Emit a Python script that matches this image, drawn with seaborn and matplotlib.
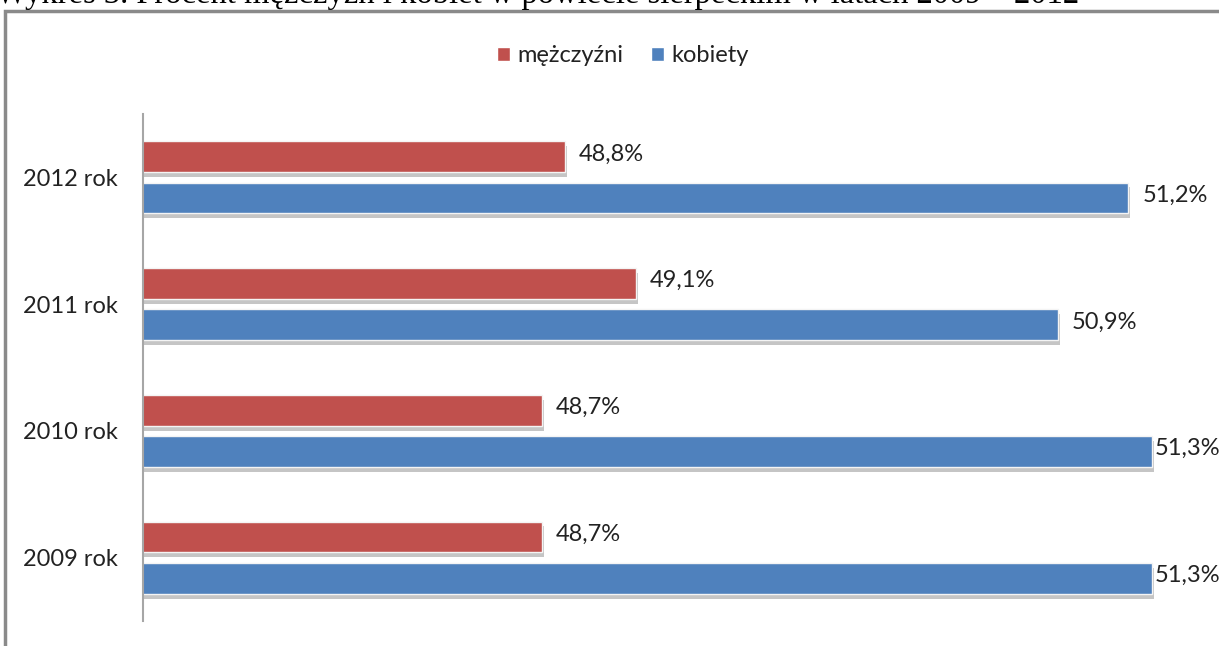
import pandas as pd
import matplotlib.pyplot as plt
import matplotlib.patheffects as pe
from matplotlib.patches import Rectangle
import seaborn as sns

sns.set_style('white')
plt.rcParams['font.family'] = ['Lato', 'DejaVu Sans']

# dane: procent mężczyzn i kobiet
years = ['2012 rok', '2011 rok', '2010 rok', '2009 rok']
men = [48.8, 49.1, 48.7, 48.7]
women = [51.2, 50.9, 51.3, 51.3]
series = ['mężczyźni', 'kobiety']
title = 'Wykres 3. Procent mężczyzn i kobiet w powiecie sierpeckim w latach 2009 – 2012'

df = pd.DataFrame({
    'rok': years * 2,
    'procent': men + women,
    'płeć': [series[0]] * len(years) + [series[1]] * len(years),
})

W, H = 1219, 646
fig = plt.figure(figsize=(W / 100, H / 100), dpi=100)
ax = fig.add_axes([143 / W, 1 - 621 / H, (1316 - 143) / W, (621 - 114) / H])

sns.barplot(data=df, y='rok', x='procent', hue='płeć', order=years, hue_order=series,
            palette=['#C0504D', '#4F81BD'], saturation=1, orient='h', width=0.65, gap=0.25,
            edgecolor='#f4f4f4', linewidth=1, ax=ax, legend=True)

handles, labels = ax.get_legend_handles_labels()
ax.get_legend().remove()

shadow = [pe.SimplePatchShadow(offset=(1.5, -3.5), shadow_rgbFace='#808080', alpha=0.45),
          pe.Normal()]
for p in ax.patches:
    p.set_path_effects(shadow)

ax.set_xlim(47, 52)
for cont in ax.containers:
    for bar in cont:
        v = bar.get_width()
        pad = 2 if v > 51.25 else 10
        ax.annotate(f'{v:.1f}%'.replace('.', ','), (v, bar.get_y() + bar.get_height() / 2),
                    xytext=(pad, 2), textcoords='offset points', va='center', ha='left',
                    fontsize=17, color='#222222', annotation_clip=False)

ax.set_xlabel('')
ax.set_ylabel('')
ax.set_xticks([])
ax.tick_params(axis='y', length=0, pad=18, labelsize=17, labelcolor='#222222')
for s in ['top', 'right', 'bottom']:
    ax.spines[s].set_visible(False)
ax.spines['left'].set_color('#a6a6a6')
ax.spines['left'].set_linewidth(1.5)

leg = fig.legend(handles, labels, loc='center', bbox_to_anchor=(623 / W, 1 - 56 / H), ncol=2,
                 frameon=False, fontsize=17, handlelength=0.55, handleheight=0.55,
                 handletextpad=0.3, columnspacing=1.2, labelcolor='#222222')
for h in leg.legend_handles:
    h.set_path_effects([])
    h.set_edgecolor('white')

# ramka wykresu
fig.patches.append(Rectangle((5 / W, -0.1), 1.2, 1.1 - 11 / H, transform=fig.transFigure,
                             fill=False, edgecolor='#8a8a8a', linewidth=2.5))

fig.text(-0.003, 1 - 3 / H, title, family='Liberation Serif', fontsize=23.5,
         va='baseline', ha='left', color='black')

fig.savefig('out.png', dpi=100)
